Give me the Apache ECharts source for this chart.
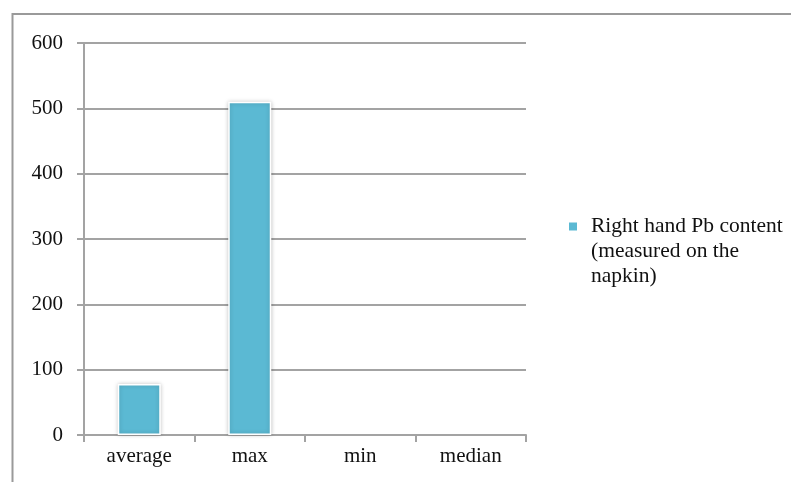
<!DOCTYPE html>
<html>
<head>
<meta charset="utf-8">
<script src="https://cdn.jsdelivr.net/npm/echarts@6/dist/echarts.min.js"></script>
<style>
  html, body { margin: 0; padding: 0; background: #fff; }
  #chart { width: 791px; height: 482px; }
</style>
</head>
<body>
<div id="chart"></div>
<script>
// Pb statistics for the right hand (napkin measurement)
const categories = ['average', 'max', 'min', 'median'];
const pbValues = [78, 510, null, null];
const seriesName = 'Right hand Pb content (measured on the napkin)';
const legendLines = ['Right hand Pb content', '(measured on the', 'napkin)'];
const yTicks = { min: 0, max: 600, interval: 100 };

const gridGray = '#a3a3a3';
const textColor = '#111111';
const barColor = '#5bb9d3';

const chart = echarts.init(document.getElementById('chart'), null, { renderer: 'canvas' });

chart.setOption({
  backgroundColor: '#fff',
  animation: false,
  graphic: [{
    type: 'rect',
    shape: { x: 12.5, y: 14, width: 820, height: 520 },
    style: { fill: 'none', stroke: '#9a9a9a', lineWidth: 2 },
    silent: true, z: -1
  }],
  grid: { left: 84, right: 265, top: 43, bottom: 47, containLabel: false },
  legend: {
    left: 567,
    top: 164,
    padding: 0,
    orient: 'vertical',
    itemWidth: 10,
    itemHeight: 10,
    icon: 'rect',
    data: [seriesName],
    // two leading blank lines keep the swatch beside the first text line
    formatter: () => '\n\n' + legendLines.join('\n'),
    textStyle: {
      fontFamily: 'Liberation Serif',
      fontSize: 21.5,
      lineHeight: 25,
      color: textColor,
      padding: [0, 0, 0, 8]
    }
  },
  xAxis: {
    type: 'category',
    data: categories,
    boundaryGap: true,
    axisLine: { show: true, lineStyle: { color: gridGray, width: 2 } },
    axisTick: { show: true, length: 7, lineStyle: { color: gridGray, width: 2 } },
    axisLabel: {
      fontFamily: 'Liberation Serif', fontSize: 21, color: textColor, margin: 11
    },
    splitLine: { show: false }
  },
  yAxis: {
    type: 'value',
    min: yTicks.min, max: yTicks.max, interval: yTicks.interval,
    axisLine: { show: true, lineStyle: { color: gridGray, width: 2 } },
    axisTick: { show: true, length: 7, lineStyle: { color: gridGray, width: 2 } },
    axisLabel: {
      fontFamily: 'Liberation Serif', fontSize: 21, color: textColor, margin: 21,
      padding: [11, 0, 0, 0]
    },
    splitLine: { show: true, lineStyle: { color: gridGray, width: 2 } }
  },
  series: [{
    name: seriesName,
    type: 'bar',
    data: pbValues,
    barWidth: 43,
    itemStyle: {
      color: barColor,
      borderColor: '#ffffff',
      borderWidth: 1.5,
      shadowColor: 'rgba(0,0,0,0.22)',
      shadowBlur: 4
    }
  }]
});
</script>
</body>
</html>
